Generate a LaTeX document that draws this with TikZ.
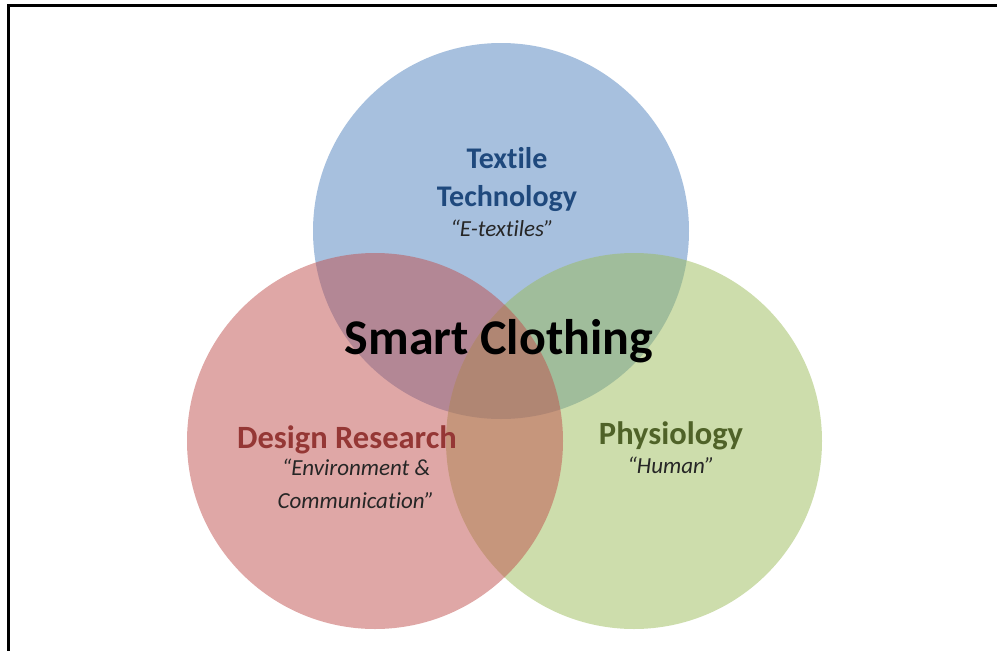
\documentclass[tikz,border=0pt]{standalone}
\usepackage{fontspec}
\setmainfont{Carlito}[Ligatures=NoCommon]
\usetikzlibrary{positioning}

\definecolor{textilefill}{HTML}{4F81BD}
\definecolor{designfill}{HTML}{C0504D}
\definecolor{physiofill}{HTML}{9BBB59}
\definecolor{textiletext}{HTML}{1F497D}
\definecolor{designtext}{HTML}{953735}
\definecolor{physiotext}{HTML}{4F6228}

\begin{document}
\begin{tikzpicture}[x=1pt,y=-1pt,
    area/.style={fill opacity=0.5},
    head/.style={font=\fontsize{32.5}{38}\selectfont\bfseries,align=center,inner sep=0pt},
    sub/.style={font=\fontsize{23}{33}\selectfont\itshape,align=center,inner sep=0pt,text=black!85},
    title/.style={font=\fontsize{50}{50}\selectfont\bfseries,inner sep=0pt}]
   \useasboundingbox (0,0) rectangle (997,651);
   \draw[line width=3pt] (8,651) -- (8,5) -- (997,5);
   % the three sets
   \coordinate (tt) at (501,231);
   \coordinate (dr) at (375,441);
   \coordinate (ph) at (634,441);
   \fill[area,textilefill] (tt) circle (188pt);
   \fill[area,physiofill] (ph) circle (188pt);
   \fill[area,designfill] (dr) circle (188pt);
   % labels (base = baseline of the last line)
   \node[head,text=textiletext,anchor=base,font=\fontsize{30}{38}\selectfont\bfseries] (textile) at (507,206) {Textile\\Technology};
   \node[sub,anchor=base] (etextiles) at (502,236) {“E-textiles”};
   \node[title,anchor=base] (smart) at (499,354) {Smart Clothing};
   \node[head,text=designtext,anchor=base] (design) at (347,448) {Design Research};
   \node[sub,anchor=base] (environment) at (356,508) {“Environment \&\\Communication”};
   \node[head,text=physiotext,anchor=base] (physio) at (671,444) {Physiology};
   \node[sub,anchor=base] (human) at (671,473) {“Human”};
\end{tikzpicture}
\end{document}
